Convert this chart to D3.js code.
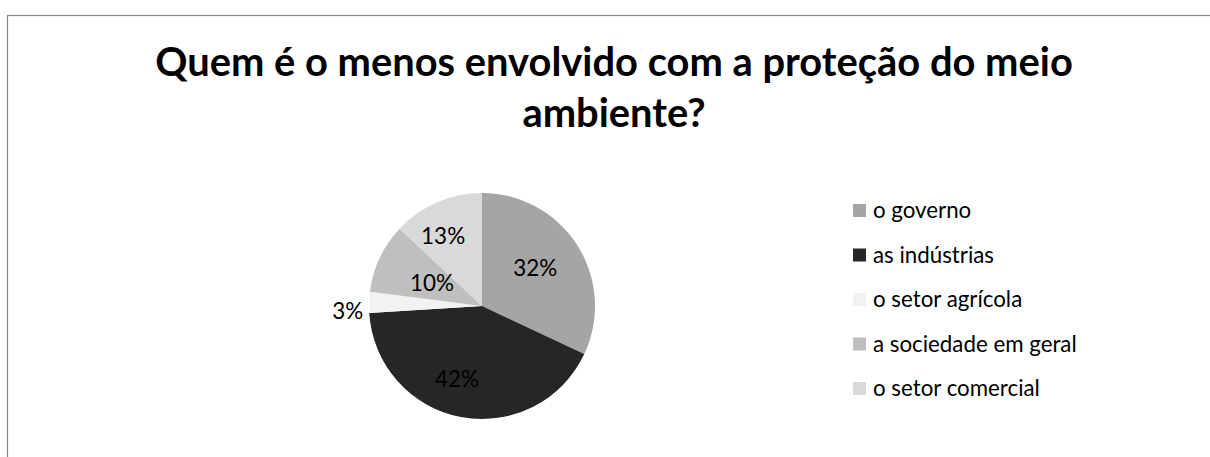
<!DOCTYPE html>
<html>
<head>
<meta charset="utf-8">
<script src="https://cdn.jsdelivr.net/npm/d3@7"></script>
<style>
  body { margin: 0; background: #fff; }
  svg { display: block; }
</style>
</head>
<body>
<svg id="chart" width="1210" height="457"></svg>
<script>
// Survey answers: who is least involved with protecting the environment
const categories = ["o governo", "as indústrias", "o setor agrícola", "a sociedade em geral", "o setor comercial"];
const shares = [32, 42, 3, 10, 13];
const sliceColors = ["#a5a5a5", "#262626", "#f2f2f2", "#bfbfbf", "#d9d9d9"];
const titleLines = ["Quem é o menos envolvido com a proteção do meio", "ambiente?"];

// data-label placement: distance as a fraction of the radius, and an angular nudge (degrees)
const labelRadius = [0.58, 0.68, 1.19, 0.49, 0.71];
const labelNudge = [-3.2, 8.2, -3.8, 0, -5.6];

const FONT = "Lato, Carlito, Calibri, 'Open Sans', sans-serif";
const svg = d3.select("#chart");

// fit a text element's font size so it spans the given width
function fitWidth(sel, target) {
  const w = sel.node().getComputedTextLength();
  const fs = parseFloat(sel.attr("font-size"));
  const size = fs * target / w;
  sel.attr("font-size", size);
  return size;
}

// chart frame (continues past the visible area on the right and bottom)
svg.append("rect")
  .attr("x", 7.5).attr("y", 15.5)
  .attr("width", 1300).attr("height", 600)
  .attr("fill", "none")
  .attr("stroke", "#898989")
  .attr("stroke-width", 1.2);

// title
const titleX = 614;
const t1 = svg.append("text")
  .attr("x", titleX).attr("y", 76)
  .attr("text-anchor", "middle")
  .attr("font-family", FONT).attr("font-weight", "bold")
  .attr("font-size", 40).attr("fill", "#000")
  .text(titleLines[0]);
const titleSize = fitWidth(t1, 918);
svg.append("text")
  .attr("x", titleX).attr("y", 127)
  .attr("text-anchor", "middle")
  .attr("font-family", FONT).attr("font-weight", "bold")
  .attr("font-size", titleSize).attr("fill", "#000")
  .text(titleLines[1]);

// pie
const cx = 482, cy = 306, radius = 113;
const pie = d3.pie().sort(null).value(d => d)(shares);
const arc = d3.arc().innerRadius(0).outerRadius(radius);
const g = svg.append("g").attr("transform", `translate(${cx},${cy})`);

g.selectAll("path.slice")
  .data(pie)
  .join("path")
  .attr("class", "slice")
  .attr("d", arc)
  .attr("fill", (d, i) => sliceColors[i]);

// data labels
const labels = g.selectAll("text.lbl")
  .data(pie)
  .join("text")
  .attr("class", "lbl")
  .attr("text-anchor", "middle")
  .attr("dominant-baseline", "central")
  .attr("font-family", FONT)
  .attr("font-size", 22)
  .attr("fill", "#000")
  .text(d => d.data + "%");

const refLabel = labels.filter((d, i) => i === 1);
const labelSize = fitWidth(refLabel, 44);
labels.attr("font-size", labelSize)
  .attr("transform", (d, i) => {
    const a = (d.startAngle + d.endAngle) / 2 + labelNudge[i] * Math.PI / 180;
    const r = radius * labelRadius[i];
    return `translate(${r * Math.sin(a)},${-r * Math.cos(a)})`;
  });

// legend
const legendX = 853, legendY0 = 218, legendStep = 44.5;
const legend = svg.append("g");
const rows = legend.selectAll("g.row")
  .data(categories)
  .join("g")
  .attr("class", "row")
  .attr("transform", (d, i) => `translate(${legendX},${legendY0 + i * legendStep})`);

rows.append("rect")
  .attr("x", 0).attr("y", -14)
  .attr("width", 13).attr("height", 13)
  .attr("fill", (d, i) => sliceColors[i]);

const legendTexts = rows.append("text")
  .attr("x", 20).attr("y", 0)
  .attr("font-family", FONT)
  .attr("font-size", 18)
  .attr("fill", "#000")
  .text(d => d);

const legendSize = fitWidth(legendTexts.filter((d, i) => i === 4), 167);
legendTexts.attr("font-size", legendSize);
</script>
</body>
</html>
